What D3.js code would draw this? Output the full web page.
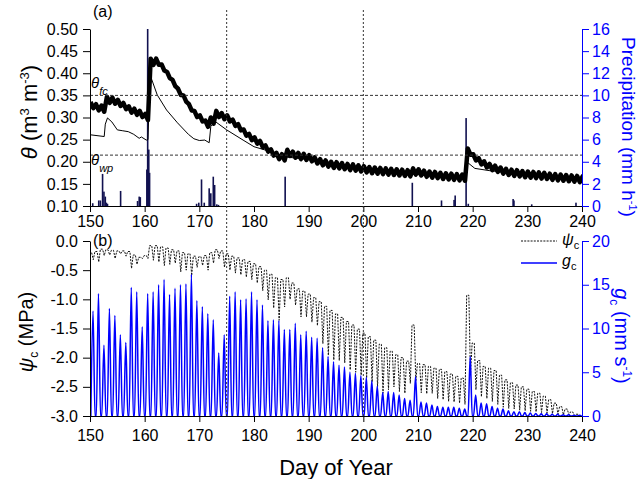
<!DOCTYPE html>
<html>
<head>
<meta charset="utf-8">
<style>
body { margin: 0; background: #fff; }
svg { display: block; font-family: Arial, "Liberation Sans", sans-serif; }
</style>
</head>
<body>
<script src="https://cdn.jsdelivr.net/npm/d3@7/dist/d3.min.js"></script>
<script>
// one entry per day of year
var days = d3.range(150, 241);

// (a) measured soil water content: night high / afternoon low, days 150..240
var thetaHi = [
  .335,.330,.327,.347,.345,.340,.333,.325,.320,.315,
  .308,.433,.433,.420,.403,.385,.365,.350,.330,.315,
  .305,.293,.300,.315,.310,.305,.295,.285,.273,.263,
  .255,.247,.237,.228,.220,.217,.227,.223,.220,.218,
  .215,.210,.206,.203,.200,.199,.197,.195,.194,.192,
  .190,.188,.187,.186,.185,.184,.183,.182,.181,.185,
  .183,.180,.178,.177,.175,.174,.173,.172,.171,.230,
  .217,.208,.201,.195,.191,.187,.184,.182,.181,.179,
  .178,.177,.176,.175,.173,.172,.171,.170,.169,.168,.167];
var thetaLo = [
  .321,.316,.313,.333,.331,.326,.319,.311,.306,.301,
  .294,.419,.419,.406,.389,.371,.351,.336,.316,.301,
  .291,.279,.286,.301,.296,.291,.281,.271,.259,.249,
  .241,.233,.223,.214,.206,.203,.213,.209,.206,.204,
  .201,.196,.192,.189,.186,.185,.183,.181,.180,.178,
  .176,.174,.173,.172,.171,.170,.169,.168,.167,.171,
  .169,.166,.164,.163,.161,.160,.159,.158,.157,.216,
  .203,.194,.187,.181,.177,.173,.170,.168,.167,.165,
  .164,.163,.162,.161,.159,.158,.157,.156,.155,.154,.153];

// (a) thin line
var modDay = [150, 152.6, 152.8, 153.2, 154, 155, 156, 157, 158, 159, 159.4, 160.3, 160.6, 160.9, 161.2,
  162.3, 164, 166, 168, 169, 170, 171, 171.8, 172.1, 172.9, 175, 178, 180, 183, 185, 190, 195, 200,
  205, 210, 215, 218.7, 218.9, 219.2, 220.4, 223, 226, 230, 235, 240];
var modVal = [0.261, 0.257, 0.285, 0.299, 0.290, 0.272, 0.270, 0.268, 0.262, 0.253, 0.256, 0.249, 0.250, 0.360, 0.389,
  0.351, 0.317, 0.288, 0.262, 0.252, 0.248, 0.249, 0.243, 0.280, 0.291, 0.272, 0.249, 0.234, 0.223, 0.212, 0.205, 0.193, 0.182,
  0.176, 0.171, 0.166, 0.163, 0.190, 0.197, 0.185, 0.180, 0.176, 0.171, 0.165, 0.160];

// (a) precipitation, mm/h
var rainDay = [150.5, 151.6, 151.9, 152.3, 152.55, 152.8, 153.0, 153.2, 155.6, 158.7, 159.0, 159.2, 160.4, 160.55,
  160.75, 160.9, 169.5, 169.9, 170.4, 170.9, 171.8, 172.1, 172.55, 172.8, 173.2, 173.5, 185.7, 208.96, 214.3,
  216.6, 216.8, 218.8, 219.2, 227.4, 227.55, 230.8, 238.9];
var rainVal = [0.25, 0.5, 0.5, 2.9, 1.3, 0.85, 0.3, 0.2, 1.36, 0.45, 0.85, 0.8, 3.3, 16,
  5.1, 3.0, 0.2, 0.3, 2.4, 0.3, 1.6, 1.15, 2.65, 1.9, 0.15, 0.1, 2.65, 2.1, 0.5,
  0.55, 0.95, 7.95, 0.2, 0.63, 0.5, 0.15, 0.3];

// (b) daily canopy conductance peak, mm/s, days 150..239
var gcPeak = [
  12.0,14.0,8.1,12.3,11.5,9.3,8.4,14.7,14.2,10.2,
  14.0,14.2,15.0,15.6,13.9,14.6,15.0,15.1,16.2,13.2,
  12.5,11.7,11.0,7.2,9.3,13.7,14.2,13.3,13.4,14.2,
  13.3,12.7,10.9,11.0,10.9,9.9,9.9,10.6,9.3,9.7,
  9.0,8.9,7.8,6.8,6.2,5.8,5.6,5.0,4.9,4.6,
  4.4,4.0,3.4,2.7,2.8,2.7,2.4,2.0,1.8,4.5,
  1.6,1.5,1.25,1.1,1.0,1.0,1.0,0.9,0.8,6.8,
  2.4,1.5,1.4,1.1,0.9,0.8,0.6,0.5,0.5,0.4,
  0.35,0.3,0.25,0.25,0.2,0.2,0.15,0.15,0.1,0.1];

// (b) canopy water potential, MPa: night max and midday min, days 150..239
var psiMax = [
  -0.20,-0.18,-0.14,-0.15,-0.16,-0.17,-0.17,-0.18,-0.24,-0.28,
  -0.25,-0.08,-0.08,-0.10,-0.12,-0.15,-0.17,-0.20,-0.22,-0.26,
  -0.27,-0.25,-0.20,-0.15,-0.17,-0.22,-0.26,-0.29,-0.32,-0.35,
  -0.39,-0.44,-0.50,-0.57,-0.63,-0.66,-0.63,-0.72,-0.82,-0.86,
  -0.91,-0.97,-1.04,-1.12,-1.19,-1.25,-1.31,-1.38,-1.44,-1.51,
  -1.58,-1.64,-1.70,-1.77,-1.83,-1.89,-1.95,-2.00,-2.06,-1.44,
  -2.10,-2.12,-2.15,-2.18,-2.20,-2.24,-2.28,-2.32,-2.35,-0.93,
  -1.75,-2.05,-2.15,-2.18,-2.22,-2.30,-2.38,-2.43,-2.47,-2.50,
  -2.54,-2.58,-2.61,-2.66,-2.72,-2.78,-2.84,-2.88,-2.93,-2.97];
var psiMin = [
  -0.32,-0.36,-0.25,-0.24,-0.30,-0.22,-0.26,-0.47,-0.40,-0.30,
  -0.30,-0.33,-0.36,-0.42,-0.40,-0.38,-0.53,-0.50,-0.59,-0.45,
  -0.42,-0.50,-0.38,-0.30,-0.45,-0.50,-0.55,-0.58,-0.62,-0.66,
  -0.72,-0.85,-1.01,-1.15,-1.36,-1.13,-1.00,-1.10,-1.30,-1.30,
  -1.39,-1.45,-1.76,-1.96,-2.04,-2.05,-2.09,-2.21,-2.25,-2.30,
  -2.35,-2.42,-2.50,-2.61,-2.55,-2.50,-2.58,-2.61,-2.44,-2.40,
  -2.60,-2.62,-2.61,-2.70,-2.72,-2.75,-2.76,-2.78,-2.80,-2.30,
  -2.55,-2.67,-2.70,-2.75,-2.80,-2.85,-2.87,-2.88,-2.90,-2.91,
  -2.92,-2.93,-2.94,-2.95,-2.96,-2.97,-2.98,-2.98,-2.99,-3.00];

var refDays = [175, 200];
var thetaRef = [0.35, 0.215];
var xTicks = d3.range(150, 241, 10);
var thetaTicks = [0.10, 0.15, 0.20, 0.25, 0.30, 0.35, 0.40, 0.45, 0.50];
var rainTicks = [0, 2, 4, 6, 8, 10, 12, 14, 16];
var psiTicks = [-3.0, -2.5, -2.0, -1.5, -1.0, -0.5, 0.0];
var gcTicks = [0, 5, 10, 15, 20];

var width = 640, height = 479;
var blue = "#0000ff";

var svg = d3.select("body").append("svg")
	.attr("width", width)
	.attr("height", height);

var x = d3.scaleLinear().domain([150, 240]).range([90, 582]);
var yTheta = d3.scaleLinear().domain([0.1, 0.5]).range([206, 29]);
var yRain = d3.scaleLinear().domain([0, 16]).range([206, 29]);
var yPsi = d3.scaleLinear().domain([-3, 0]).range([416, 241]);
var yGc = d3.scaleLinear().domain([0, 20]).range([416, 241]);

var defs = svg.append("defs");
defs.append("clipPath").attr("id", "clipA").append("rect")
	.attr("x", 90).attr("y", 26).attr("width", 492).attr("height", 180);
defs.append("clipPath").attr("id", "clipB").append("rect")
	.attr("x", 90).attr("y", 238).attr("width", 492).attr("height", 178);

//axis helper: major + minor ticks
function drawAxis(axisFn, scale, pos, major, minor, fmt, size, pad, color) {
	var g = svg.append("g").attr("transform", pos);
	g.call(axisFn(scale).tickValues(minor).tickSize(4).tickFormat("").tickSizeOuter(0));
	g.call(axisFn(scale).tickValues(major).tickSize(size).tickPadding(pad).tickFormat(fmt).tickSizeOuter(0));
	g.selectAll("path, line").attr("stroke", color).attr("stroke-width", 1);
	g.selectAll("text").attr("fill", color).attr("font-size", 16).attr("font-family", "Arial, 'Liberation Sans', sans-serif");
	return g;
}

var f2 = function(d) { return d.toFixed(2); };
var f1 = function(d) { return d.toFixed(1); };
var f0 = function(d) { return d; };

// ---------- panel (a) ----------
var pa = svg.append("g").attr("clip-path", "url(#clipA)");

pa.selectAll("rect.rain")
	.data(rainDay)
	.enter()
	.append("rect")
	.attr("class", "rain")
	.attr("fill", "#111150")
	.attr("x", function(d) { return x(d) - 0.8; })
	.attr("width", 1.6)
	.attr("y", function(d, i) { return yRain(rainVal[i]); })
	.attr("height", function(d, i) { return yRain(0) - yRain(rainVal[i]); });

var modPts = modDay.map(function(d, i) { return [d, modVal[i]]; });
pa.append("path")
	.datum(modPts)
	.attr("fill", "none")
	.attr("stroke", "#000")
	.attr("stroke-width", 1)
	.attr("d", d3.line().x(function(d) { return x(d[0]); }).y(function(d) { return yTheta(d[1]); }));

var thetaPts = [];
days.forEach(function(d, i) {
	thetaPts.push([d + 0.1, thetaHi[i]]);
	thetaPts.push([d + 0.6, thetaLo[i]]);
});
pa.append("path")
	.datum(thetaPts)
	.attr("fill", "none")
	.attr("stroke", "#000")
	.attr("stroke-width", 4.5)
	.attr("stroke-linejoin", "round")
	.attr("d", d3.line().x(function(d) { return x(d[0]); }).y(function(d) { return yTheta(d[1]); }));

svg.selectAll("line.href")
	.data(thetaRef)
	.enter()
	.append("line")
	.attr("class", "href")
	.attr("x1", 90).attr("x2", 582)
	.attr("y1", function(d) { return yTheta(d); })
	.attr("y2", function(d) { return yTheta(d); })
	.attr("stroke", "#333")
	.attr("stroke-dasharray", "3,2");

drawAxis(d3.axisBottom, x, "translate(0,206)", xTicks, d3.range(150, 241, 2), f0, 6, 4, "#000");
drawAxis(d3.axisLeft, yTheta, "translate(90,0)", thetaTicks, d3.range(10, 51).map(function(v) { return v / 100; }), f2, 7, 5, "#000");
drawAxis(d3.axisRight, yRain, "translate(582,0)", rainTicks, d3.range(0, 33).map(function(v) { return v / 2; }), f0, 7, 3, blue);

// ---------- panel (b) ----------
var pb = svg.append("g").attr("clip-path", "url(#clipB)");

var psiPts = [];
days.slice(0, 90).forEach(function(d, i) {
	psiPts.push([d + 0.3, psiMax[i]]);
	psiPts.push([d + 0.6, psiMin[i]]);
	if (i + 1 < psiMax.length) psiPts.push([d + 0.9, psiMax[i + 1]]);
});
pb.append("path")
	.datum(psiPts)
	.attr("fill", "none")
	.attr("stroke", "#111")
	.attr("stroke-width", 1)
	.attr("stroke-dasharray", "2,1.2")
	.attr("d", d3.line().x(function(d) { return x(d[0]); }).y(function(d) { return yPsi(d[1]); }));

var gcPts = [];
days.slice(0, 90).forEach(function(d, i) {
	gcPts.push([d + 0.15, 0]);
	gcPts.push([d + 0.55, gcPeak[i]]);
	gcPts.push([d + 0.92, 0]);
});
pb.append("path")
	.datum(gcPts)
	.attr("fill", "none")
	.attr("stroke", blue)
	.attr("stroke-width", 1.5)
	.attr("d", d3.line().curve(d3.curveMonotoneX).x(function(d) { return x(d[0]); }).y(function(d) { return yGc(d[1]); }));

drawAxis(d3.axisBottom, x, "translate(0,416)", xTicks, d3.range(150, 241, 2), f0, 6, 8, "#000");
drawAxis(d3.axisLeft, yPsi, "translate(90,0)", psiTicks, d3.range(-30, 1).map(function(v) { return v / 10; }), f1, 7, 5, "#000");
drawAxis(d3.axisRight, yGc, "translate(582,0)", gcTicks, d3.range(0, 21), f0, 7, 3, blue);

// vertical reference days across both panels
svg.selectAll("line.vref")
	.data(refDays)
	.enter()
	.append("line")
	.attr("class", "vref")
	.attr("x1", function(d) { return x(d); })
	.attr("x2", function(d) { return x(d); })
	.attr("y1", 10).attr("y2", 416)
	.attr("stroke", "#333")
	.attr("stroke-dasharray", "2,2");

// ---------- texts ----------
svg.append("text").attr("x", 93).attr("y", 17).attr("font-size", 16).text("(a)");
svg.append("text").attr("x", 93).attr("y", 246).attr("font-size", 16).text("(b)");

var fc = svg.append("text").attr("x", 91).attr("y", 88).attr("font-size", 15);
fc.append("tspan").attr("font-style", "italic").text("θ");
fc.append("tspan").attr("font-size", 11).attr("dy", 7).attr("font-style", "italic").text("fc");
var wp = svg.append("text").attr("x", 91).attr("y", 165).attr("font-size", 15);
wp.append("tspan").attr("font-style", "italic").text("θ");
wp.append("tspan").attr("font-size", 11).attr("dy", 7).attr("font-style", "italic").text("wp");

var tA = svg.append("text").attr("transform", "translate(37,112) rotate(-90)")
	.attr("text-anchor", "middle").attr("font-size", 22);
tA.append("tspan").attr("font-style", "italic").text("θ");
tA.append("tspan").text(" (m");
tA.append("tspan").attr("font-size", 13).attr("dy", -8).text("3");
tA.append("tspan").attr("dy", 8).text(" m");
tA.append("tspan").attr("font-size", 13).attr("dy", -8).text("-3");
tA.append("tspan").attr("dy", 8).text(")");

var tR = svg.append("text").attr("transform", "translate(622,127) rotate(90)")
	.attr("text-anchor", "middle").attr("font-size", 19).attr("fill", blue);
tR.append("tspan").text("Precipitation (mm h");
tR.append("tspan").attr("font-size", 11).attr("dy", -7).text("-1");
tR.append("tspan").attr("dy", 7).text(")");

var tB = svg.append("text").attr("transform", "translate(33,332) rotate(-90)")
	.attr("text-anchor", "middle").attr("font-size", 20);
tB.append("tspan").attr("font-style", "italic").text("ψ");
tB.append("tspan").attr("font-size", 12).attr("dy", 5).text("c");
tB.append("tspan").attr("dy", -5).text(" (MPa)");

var tG = svg.append("text").attr("transform", "translate(615,336) rotate(90)")
	.attr("text-anchor", "middle").attr("font-size", 20).attr("fill", blue);
tG.append("tspan").attr("font-style", "italic").text("g");
tG.append("tspan").attr("font-size", 12).attr("dy", 5).text("c");
tG.append("tspan").attr("dy", -5).text(" (mm s");
tG.append("tspan").attr("font-size", 12).attr("dy", -8).text("-1");
tG.append("tspan").attr("dy", 8).text(")");

svg.append("text").attr("x", 336).attr("y", 475).attr("text-anchor", "middle")
	.attr("font-size", 22).text("Day of Year");

// legend
svg.append("line").attr("x1", 521).attr("x2", 557).attr("y1", 241).attr("y2", 241)
	.attr("stroke", "#111").attr("stroke-dasharray", "2,1.2");
svg.append("line").attr("x1", 521).attr("x2", 557).attr("y1", 263).attr("y2", 263)
	.attr("stroke", blue).attr("stroke-width", 1.5);
var l1 = svg.append("text").attr("x", 562).attr("y", 245).attr("font-size", 16);
l1.append("tspan").attr("font-style", "italic").text("ψ");
l1.append("tspan").attr("font-size", 11).attr("dy", 4).text("c");
var l2 = svg.append("text").attr("x", 562).attr("y", 266).attr("font-size", 16);
l2.append("tspan").attr("font-style", "italic").text("g");
l2.append("tspan").attr("font-size", 11).attr("dy", 4).text("c");
</script>
</body>
</html>
